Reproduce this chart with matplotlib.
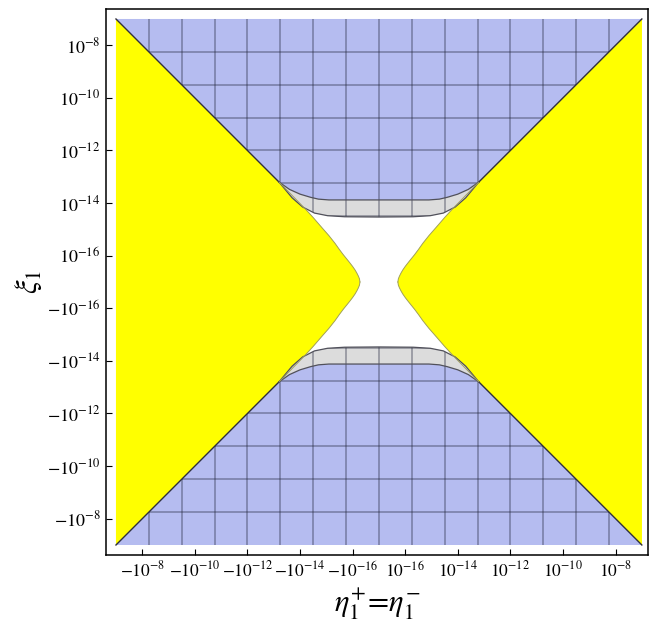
import numpy as np
import matplotlib.pyplot as plt
from matplotlib.patches import Polygon

plt.rcParams.update({'font.size': 12, 'mathtext.fontset': 'stix'})

# plot coordinates: u = sign(x) * (log10|x| + 17), same for v
lim = 10.0
mesh_step = 1.25

# tick values (exponents of 10), negative side then positive side
tick_exps = [-8, -10, -12, -14, -16]

# right yellow edge, upper half, from the tip out to the corner
yel_u = [0.72, 0.74, 0.78, 0.84, 0.91, 1.00, 1.10, 1.22, 1.35, 1.50, 1.67,
         1.90, 2.18, 2.50, 2.81, 3.80, 10.0]
yel_v = [0.00, 0.12, 0.22, 0.34, 0.46, 0.59, 0.72, 0.87, 1.03, 1.23, 1.47,
         1.76, 2.08, 2.45, 2.79, 3.80, 10.0]

# lower edge of the blue region (right half, centre outwards)
blue_u = [0.0, 1.90, 2.30, 2.60, 3.00, 3.40, 3.80]
blue_v = [3.12, 3.12, 3.15, 3.22, 3.34, 3.52, 3.80]

# lower edge of the grey band (right half, centre outwards)
grey_u = [0.0, 1.30, 1.95, 2.45, 2.90, 3.30, 3.80]
grey_v = [2.47, 2.48, 2.52, 2.62, 2.85, 3.20, 3.80]


def to_u(x):
    return np.sign(x) * (np.log10(np.abs(x)) + 17)


def mirror(u, v):
    # full curve from left to right, symmetric in u
    u = np.asarray(u); v = np.asarray(v)
    return np.r_[-u[::-1], u[1:]], np.r_[v[::-1], v[1:]]


fig = plt.figure(figsize=(6.49, 6.24), dpi=100)
ax = fig.add_axes([0.1633, 0.1106, 0.835, 0.875])

yu = np.asarray(yel_u); yv = np.asarray(yel_v)
bu, bv = mirror(blue_u, blue_v)
gu, gv = mirror(grey_u, grey_v)

for s in [1, -1]:
    # yellow wedges
    for side in [1, -1]:
        pu = np.r_[yu[::-1], yu[1:]] * side
        pv = np.r_[yv[::-1], -yv[1:]]
        ax.add_patch(Polygon(np.c_[pu, pv], closed=True, fc='#ffff00', ec='none', zorder=1))

    # blue region
    blue_poly = np.r_[[[-lim, lim * s], [lim, lim * s]], np.c_[bu[::-1], s * bv[::-1]]]
    ax.add_patch(Polygon(blue_poly, closed=True, fc='#b5bcf0', ec='none', zorder=2))

    # grey band
    grey_poly = np.r_[np.c_[bu, s * bv], np.c_[gu[::-1], s * gv[::-1]]]
    ax.add_patch(Polygon(grey_poly, closed=True, fc='#dcdcdc', ec='none', zorder=2))

    # mesh, clipped to blue + grey
    clip_poly = np.r_[[[-lim, lim * s], [lim, lim * s]], np.c_[gu[::-1], s * gv[::-1]]]
    clip = Polygon(clip_poly, closed=True, transform=ax.transData)
    mesh = np.arange(-lim + mesh_step, lim, mesh_step)
    vl = ax.vlines(mesh, -lim, lim, colors='#20243a', linewidth=1.2, alpha=0.4, zorder=3)
    hl = ax.hlines(mesh, -lim, lim, colors='#20243a', linewidth=1.2, alpha=0.4, zorder=3)
    vl.set_clip_path(clip)
    hl.set_clip_path(clip)

    # boundaries
    ax.plot(bu, s * bv, color='#50505a', lw=0.9, zorder=4)
    ax.plot(gu, s * gv, color='#50505a', lw=0.9, zorder=4)
    for side in [1, -1]:
        k = yu >= 3.8
        ax.plot(side * yu[k], s * yv[k], color='#30303a', lw=1.0, zorder=4)
        m = yu <= 3.8
        ax.plot(side * yu[m], s * yv[m], color='#a0a060', lw=0.7, zorder=4)

ax.set_xlim(-10.38, 10.23)
ax.set_ylim(-10.38, 10.38)

neg = [(-10.0 ** e, r'$-10^{%d}$' % e) for e in tick_exps]
pos = [(10.0 ** e, r'$10^{%d}$' % e) for e in tick_exps[::-1]]
ticks = [to_u(x) for x, _ in neg + pos]
labels = [l for _, l in neg + pos]
ax.set_xticks(ticks)
ax.set_xticklabels(labels)
ax.set_yticks(ticks)
ax.set_yticklabels(labels)
ax.tick_params(direction='in', length=4, width=0.8, labelsize=13, pad=4)
ax.tick_params(axis='x', labelsize=12.5)

for sp in ax.spines.values():
    sp.set_linewidth(1.1)

ax.set_xlabel(r'$\eta_1^{+}\!=\!\eta_1^{-}$', fontsize=22, labelpad=4)
ax.set_ylabel(r'$\xi_1$', fontsize=22, labelpad=2)

fig.savefig('out.png', dpi=100)
